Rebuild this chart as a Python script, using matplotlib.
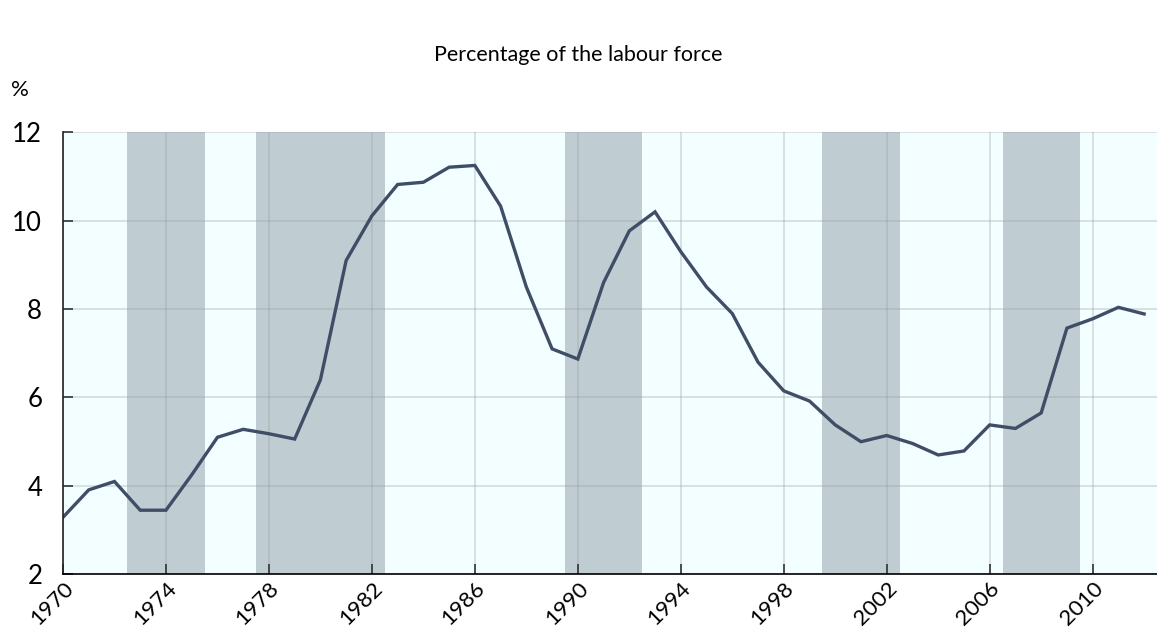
import matplotlib
matplotlib.use("Agg")
import matplotlib.pyplot as plt

years = list(range(1970, 2013))
unemployment = [3.29, 3.91, 4.10, 3.45, 3.45, 4.25, 5.10, 5.28, 5.18, 5.06,
                6.40, 9.10, 10.11, 10.82, 10.87, 11.21, 11.25, 10.33, 8.50, 7.10,
                6.87, 8.60, 9.77, 10.20, 9.30, 8.50, 7.90, 6.80, 6.15, 5.92,
                5.38, 5.00, 5.14, 4.96, 4.70, 4.79, 5.38, 5.30, 5.65, 7.57,
                7.78, 8.04, 7.89]
recessions = [(1972.5, 1975.5), (1977.5, 1982.5), (1989.5, 1992.5),
              (1999.5, 2002.5), (2006.5, 2009.5)]
xticks = list(range(1970, 2012, 4))
yticks = [2, 4, 6, 8, 10, 12]

plt.rcParams['font.family'] = ['Lato', 'DejaVu Sans']

fig = plt.figure(figsize=(11.57, 6.31), dpi=100)
ax = fig.add_axes([63/1157, 1-574.3/631, 1-63/1157, (574.3-132.3)/631])
ax.set_facecolor('#f2feff')

for a, b in recessions:
    ax.axvspan(a, b, color='#bfccd2', zorder=1, lw=0)

ax.plot(years, unemployment, color='#3f4e66', lw=2.4, zorder=4,
        solid_joinstyle='miter')

ax.set_xlim(1970, 2012.5)
ax.set_ylim(2, 12)
ax.set_xticks(xticks)
ax.set_xticklabels([str(t) for t in xticks], rotation=45, ha='right',
                   rotation_mode='anchor', fontsize=16)
ax.set_yticks(yticks)
ax.set_yticklabels([str(t) for t in yticks], fontsize=18.5)
ax.grid(True, color='#9a9a9a', alpha=0.35, lw=1.2, zorder=2)
for l in ax.get_xgridlines() + ax.get_ygridlines():
    l.set_zorder(2)

ax.tick_params(axis='both', direction='in', length=7, width=1.2,
               color='#333333')
ax.tick_params(axis='y', pad=15)
ax.tick_params(axis='x', pad=3)
for s in ['top', 'right']:
    ax.spines[s].set_visible(False)
ax.spines['left'].set_color('#222222')
ax.spines['bottom'].set_color('#000000')
ax.spines['left'].set_linewidth(1.2)
ax.spines['bottom'].set_linewidth(1.2)
ax.spines['left'].set_zorder(5)
ax.spines['bottom'].set_zorder(5)

fig.text(578/1157, 1-55/631, 'Percentage of the labour force', ha='center',
         va='center', fontsize=15.5)
fig.text(11/1157, 1-90/631, '%', ha='left', va='center', fontsize=16)

fig.savefig('out.png', dpi=100)
